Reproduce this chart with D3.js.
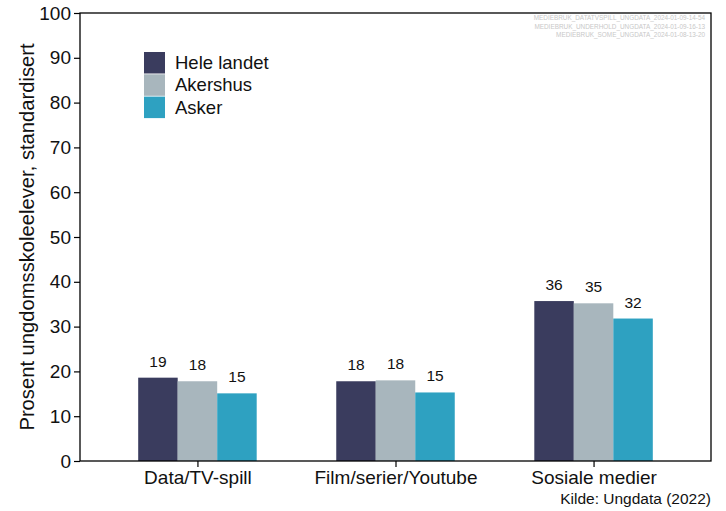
<!DOCTYPE html>
<html><head><meta charset="utf-8">
<script src="https://cdn.jsdelivr.net/npm/d3@7"></script>
<style>body{margin:0;background:#fff;} svg{display:block;font-family:"Liberation Sans",Arial,sans-serif;}</style>
</head><body>
<svg id="c" width="726" height="511"></svg>
<script>
const categories = ["Data/TV-spill", "Film/serier/Youtube", "Sosiale medier"];
const seriesNames = ["Hele landet", "Akershus", "Asker"];
const heleLandet = [18.6, 17.8, 35.7];
const akershus = [17.8, 18.0, 35.2];
const asker = [15.1, 15.3, 31.8];
const labelsHele = ["19", "18", "36"];
const labelsAkershus = ["18", "18", "35"];
const labelsAsker = ["15", "15", "32"];
const yTicks = [0,10,20,30,40,50,60,70,80,90,100];
const colors = ["#3a3c5e", "#a8b6bd", "#2ea1c1"];
const stamps = ["MEDIEBRUK_DATATVSPILL_UNGDATA_2024-01-09-14-54","MEDIEBRUK_UNDERHOLD_UNGDATA_2024-01-09-16-13","MEDIEBRUK_SOME_UNGDATA_2024-01-08-13-20"];

const series = [heleLandet, akershus, asker];
const seriesLabels = [labelsHele, labelsAkershus, labelsAsker];

const svg = d3.select("#c");
const L = 80, R = 711, T = 13, B = 461;
const x = d3.scalePoint().domain(categories).range([L, R]).padding(0.593);
const y = d3.scaleLinear().domain([0, 100]).range([B, T]);
const inner = d3.scaleBand().domain(seriesNames).range([-59.25, 59.25]).padding(0);

// bars
seriesNames.forEach((s, si) => {
  const g = svg.append("g");
  g.selectAll("rect").data(categories).join("rect")
    .attr("x", (c) => x(c) + inner(s))
    .attr("width", inner.bandwidth())
    .attr("y", (c, i) => y(series[si][i]))
    .attr("height", (c, i) => y(0) - y(series[si][i]))
    .attr("fill", colors[si]);
  g.selectAll("text").data(categories).join("text")
    .attr("x", (c) => x(c) + inner(s) + inner.bandwidth()/2)
    .attr("y", (c, i) => y(series[si][i]) - 11)
    .attr("text-anchor", "middle")
    .attr("font-size", 15.5)
    .attr("fill", "#111")
    .text((c, i) => seriesLabels[si][i]);
});

// frame
svg.append("rect").attr("x", L).attr("y", T).attr("width", R-L).attr("height", B-T)
  .attr("fill", "none").attr("stroke", "#000").attr("stroke-width", 1.3);

// y axis
const ya = svg.append("g").attr("transform", `translate(${L},0)`)
  .call(d3.axisLeft(y).tickValues(yTicks).tickSize(6).tickPadding(3));
ya.select(".domain").remove();
ya.selectAll("text").attr("font-size", 19).attr("fill", "#111").attr("font-family", "Liberation Sans, Arial, sans-serif");
ya.selectAll("line").attr("stroke", "#000").attr("stroke-width", 1.2);

// x axis
const xa = svg.append("g").attr("transform", `translate(0,${B})`)
  .call(d3.axisBottom(x).tickSize(6).tickPadding(4));
xa.select(".domain").remove();
xa.selectAll("text").attr("font-size", 19).attr("fill", "#111").attr("font-family", "Liberation Sans, Arial, sans-serif");
xa.selectAll("line").attr("stroke", "#000").attr("stroke-width", 1.2);

// y title
svg.append("text").attr("transform", `translate(34,${(T+B)/2}) rotate(-90)`)
  .attr("text-anchor", "middle").attr("font-size", 20.2).attr("fill", "#111")
  .text("Prosent ungdomsskoleelever, standardisert");

// legend
const lg = svg.append("g").attr("transform", "translate(144,52)");
seriesNames.forEach((s, i) => {
  lg.append("rect").attr("x", 0).attr("y", i*22.3).attr("width", 21).attr("height", 21.5).attr("fill", colors[i]);
  lg.append("text").attr("x", 31).attr("y", i*22.3 + 17).attr("font-size", 18.5).attr("fill", "#111").text(s);
});

// stamps
stamps.forEach((t, i) => {
  svg.append("text").attr("x", 705).attr("y", 20 + i*8.5).attr("text-anchor", "end")
    .attr("font-size", 6.4).attr("fill", "#c8c8c8").text(t);
});

// source
svg.append("text").attr("x", 711).attr("y", 504).attr("text-anchor", "end")
  .attr("font-size", 15.5).attr("fill", "#111").text("Kilde: Ungdata (2022)");
</script>
</body></html>
